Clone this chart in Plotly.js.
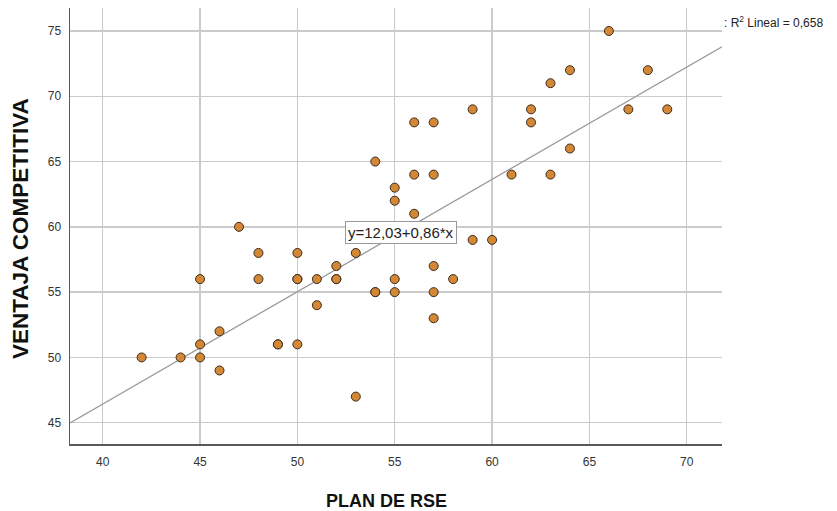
<!DOCTYPE html>
<html>
<head>
<meta charset="utf-8">
<script src="https://cdn.plot.ly/plotly-3.0.1.min.js"></script>
<style>html,body{margin:0;padding:0;background:#fff;}#chart{width:837px;height:511px;}</style>
</head>
<body>
<div id="chart"></div>
<script>
// PLAN DE RSE (x) vs VENTAJA COMPETITIVA (y)
var planRSE = [42,44,45,45,45,46,46,47,48,48,49,49,50,50,50,50,51,51,52,52,52,53,53,54,54,54,55,55,55,55,56,56,56,57,57,57,57,57,58,59,59,60,61,62,62,63,63,64,64,66,67,68,69];
var ventaja = [50,50,56,51,50,52,49,60,58,56,51,51,58,56,56,51,56,54,57,56,56,58,47,65,55,55,63,62,56,55,68,64,61,68,64,57,55,53,56,69,59,59,64,69,68,71,64,72,66,75,69,72,69];
var intercept = 12.03;
var slope = 0.86;
var r2Text = "0,658";
var xTitle = "PLAN DE RSE";
var yTitle = "VENTAJA COMPETITIVA";
var xRange = [38.32, 71.81];
var yRange = [43.37, 76.76];

var fitX = [xRange[0], xRange[1]];
var fitY = fitX.map(function(v){ return intercept + slope * v; });

var titleFont = 'Arial, "Liberation Sans", sans-serif';

var traces = [
  {
    x: fitX, y: fitY, mode: 'lines', type: 'scatter',
    line: {color: '#9a9a9a', width: 1.3}, hoverinfo: 'skip', showlegend: false
  },
  {
    x: planRSE, y: ventaja, mode: 'markers', type: 'scatter',
    marker: {size: 9, color: 'rgb(212,135,52)', line: {color: '#3b2c1e', width: 1}},
    showlegend: false, hoverinfo: 'skip'
  }
];

var layout = {
  width: 837, height: 511,
  margin: {l: 70, r: 115, t: 8, b: 67},
  paper_bgcolor: '#fff', plot_bgcolor: '#fff',
  showlegend: false, hovermode: false,
  font: {family: titleFont, size: 12, color: '#333'},
  xaxis: {
    range: xRange, tick0: 40, dtick: 5, zeroline: false,
    showgrid: true, gridcolor: '#cbcbcb', gridwidth: 1.4,
    showline: true, linecolor: '#5a5a5a', linewidth: 1.5,
    ticks: 'outside', ticklen: 6, tickcolor: 'rgba(0,0,0,0)',
    tickfont: {size: 12, color: '#333'}
  },
  yaxis: {
    range: yRange, tick0: 45, dtick: 5, zeroline: false,
    showgrid: true, gridcolor: '#cbcbcb', gridwidth: 1.4,
    showline: true, linecolor: '#5a5a5a', linewidth: 1.5,
    ticks: 'outside', ticklen: 5, tickcolor: 'rgba(0,0,0,0)',
    tickfont: {size: 12, color: '#333'}
  },
  annotations: [
    {
      xref: 'paper', yref: 'paper', x: 0.4847, y: -0.1307, xanchor: 'center', yanchor: 'middle',
      text: '<b>' + xTitle + '</b>', showarrow: false,
      font: {size: 18, color: '#111', family: titleFont}
    },
    {
      xref: 'paper', yref: 'paper', x: -0.0767, y: 0.4954, xanchor: 'center', yanchor: 'middle',
      text: '<b>' + yTitle + '</b>', showarrow: false, textangle: -90,
      font: {size: 22.5, color: '#111', family: titleFont}
    },
    {
      xref: 'paper', yref: 'paper', x: 0.507, y: 0.484, xanchor: 'center', yanchor: 'middle',
      text: 'y=' + intercept.toFixed(2).replace('.', ',') + '+' + slope.toFixed(2).replace('.', ',') + '*x',
      showarrow: false, font: {size: 15, color: '#222'},
      bgcolor: '#fff', bordercolor: '#999', borderwidth: 1, borderpad: 2
    },
    {
      xref: 'paper', yref: 'paper', x: 1.0, y: 0.968, xanchor: 'left', yanchor: 'middle',
      text: ': R<sup>2</sup> Lineal = ' + r2Text,
      showarrow: false, font: {size: 12, color: '#222'}
    }
  ]
};

Plotly.newPlot('chart', traces, layout, {displayModeBar: false, staticPlot: true});
</script>
</body>
</html>
